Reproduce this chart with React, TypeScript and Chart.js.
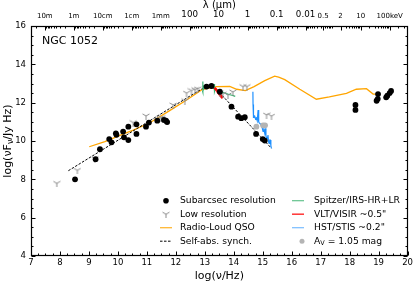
import { useEffect, useRef } from 'react';
import { Chart, registerables } from 'chart.js';

Chart.register(...registerables);

const FONT = "'DejaVu Sans', sans-serif";

// Subarcsec resolution photometry (log nu, log nuFnu)
const subarcNu = [8.52, 9.23, 9.38, 9.70, 9.78, 9.93, 9.95, 10.18, 10.21, 10.36, 10.36, 10.64, 10.64, 10.97, 11.07, 11.36, 11.59, 11.66, 11.70, 13.06, 13.23, 13.52, 13.92, 14.15, 14.26, 14.38, 14.77, 15.00, 15.07, 18.20, 18.20, 18.93, 18.97, 18.98, 19.26, 19.30, 19.38, 19.43];
const subarcFlux = [8.00, 9.05, 9.57, 10.10, 9.93, 10.40, 10.32, 10.49, 10.19, 10.05, 10.75, 10.87, 10.37, 10.75, 10.96, 11.06, 11.10, 11.06, 10.99, 12.84, 12.87, 12.57, 11.79, 11.27, 11.19, 11.24, 10.37, 10.10, 10.02, 11.88, 11.62, 12.10, 12.20, 12.45, 12.28, 12.36, 12.50, 12.61];

// Low resolution photometry
const lowresNu = [7.89, 8.60, 9.21, 10.53, 10.97, 11.45, 11.52, 11.91, 12.31, 12.37, 12.54, 12.66, 12.75, 13.52, 13.62, 13.80, 13.97, 14.32, 14.45, 15.13, 15.30];
const lowresFlux = [7.79, 8.47, 9.08, 10.96, 11.31, 11.19, 11.22, 11.88, 12.10, 12.50, 12.63, 12.68, 12.72, 12.50, 12.45, 12.40, 12.56, 12.84, 12.84, 11.36, 11.30];

// Extinction corrected (A_V = 1.05 mag)
const avNu = [14.78, 15.01, 15.08];
const avFlux = [10.75, 10.82, 10.82];

// Radio-loud QSO template
const qsoNu = [9.01, 9.55, 10.24, 10.53, 11.10, 11.80, 12.37, 12.90, 13.10, 13.40, 13.86, 14.10, 14.40, 14.70, 15.07, 15.41, 15.55, 15.76, 16.28, 16.85, 17.30, 17.89, 18.23, 18.58, 18.81, 18.95];
const qsoFlux = [9.70, 9.97, 10.40, 10.57, 10.95, 11.60, 12.14, 12.68, 12.75, 12.84, 12.85, 12.70, 12.63, 12.84, 13.15, 13.38, 13.33, 13.20, 12.70, 12.18, 12.30, 12.49, 12.70, 12.73, 12.45, 12.45];

// Self-absorbed synchrotron model
const synchNu = [8.29, 12.60, 12.90, 13.15, 13.40, 15.30];
const synchFlux = [8.45, 12.45, 12.72, 12.80, 12.70, 9.62];

// Spitzer/IRS spectrum
const spitzerNu = [12.92, 12.93, 12.935, 12.94, 12.96, 12.99, 13.03, 13.08, 13.14, 13.20, 13.26, 13.32, 13.33, 13.34, 13.36, 13.42, 13.50, 13.58, 13.66, 13.74, 13.82, 13.90, 13.98, 14.05];
const spitzerFlux = [12.62, 13.10, 12.55, 12.90, 12.70, 12.80, 12.76, 12.80, 12.78, 12.80, 12.77, 12.76, 12.98, 12.60, 12.74, 12.66, 12.60, 12.55, 12.52, 12.47, 12.43, 12.40, 12.37, 12.33];

// VLT/VISIR spectrum
const vltNu = [13.34, 13.38, 13.42, 13.46, 13.50, 13.54, 13.58, 13.62];
const vltFlux = [12.78, 12.70, 12.62, 12.53, 12.45, 12.38, 12.30, 12.24];

// HST/STIS spectrum
const hstNu = [14.66, 14.665, 14.67, 14.69, 14.72, 14.75, 14.78, 14.81, 14.84, 14.86, 14.88, 14.91, 14.95, 14.98, 15.01, 15.04, 15.07, 15.09, 15.11, 15.13, 15.16, 15.18, 15.20, 15.22, 15.24, 15.26, 15.28, 15.30];
const hstFlux = [12.57, 11.90, 11.40, 11.25, 11.30, 11.15, 11.20, 11.05, 11.62, 11.00, 10.95, 10.90, 10.85, 10.70, 10.50, 10.60, 10.40, 10.66, 10.30, 10.05, 10.20, 10.31, 9.95, 9.88, 10.05, 10.05, 9.75, 9.62];

// Top axis: wavelength (micron) and X-ray energy (keV)
const lambdaLabels = ['10m', '1m', '10cm', '1cm', '1mm', '100', '10', '1', '0.1', '0.01'];
const lambdaMicron = [1e7, 1e6, 1e5, 1e4, 1e3, 100, 10, 1, 0.1, 0.01];
const keVLabels = ['0.5', '2', '10', '100keV'];
const keVValues = [0.5, 2, 10, 100];

const LOG_C_MICRON = Math.log10(2.99792458e14);
const LOG_KEV_HZ = Math.log10(2.417989e17);

const topTickPos = [
  ...lambdaMicron.map((l) => LOG_C_MICRON - Math.log10(l)),
  ...keVValues.map((e) => LOG_KEV_HZ + Math.log10(e)),
];
const topTickLabels = [...lambdaLabels, ...keVLabels];

const pts = (xs: number[], ys: number[]) => xs.map((x, i) => ({ x, y: ys[i] }));

function makeTri(color: string, size: number) {
  const c = document.createElement('canvas');
  c.width = size;
  c.height = size;
  const g = c.getContext('2d')!;
  const r = size / 2;
  g.strokeStyle = color;
  g.lineWidth = 1;
  g.beginPath();
  g.moveTo(r, r);
  g.lineTo(r, size);
  g.moveTo(r, r);
  g.lineTo(r - r * 0.87, r - r * 0.5);
  g.moveTo(r, r);
  g.lineTo(r + r * 0.87, r - r * 0.5);
  g.stroke();
  return c;
}

const decor = {
  id: 'decor',
  afterDraw(chart: any) {
    const { ctx, chartArea: a } = chart;
    const xs = chart.scales.x;
    const ys = chart.scales.y;
    const L = Math.round(a.left) + 0.5;
    const R = Math.round(a.right) - 0.5;
    const T = Math.round(a.top) + 0.5;
    const B = Math.round(a.bottom) - 0.5;
    ctx.save();
    ctx.strokeStyle = '#000';
    ctx.lineWidth = 1;
    ctx.beginPath();
    // bottom ticks
    for (let v = 7; v <= 20.001; v += 0.25) {
      const px = Math.round(xs.getPixelForValue(v)) + 0.5;
      const len = Math.abs(v - Math.round(v)) < 1e-6 ? 4 : 2;
      ctx.moveTo(px, B);
      ctx.lineTo(px, B - len);
    }
    // left / right ticks
    for (let v = 4; v <= 16.001; v += 0.5) {
      const py = Math.round(ys.getPixelForValue(v)) + 0.5;
      const len = Math.abs(v / 2 - Math.round(v / 2)) < 1e-6 ? 4 : 2;
      ctx.moveTo(L, py);
      ctx.lineTo(L + len, py);
      ctx.moveTo(R, py);
      ctx.lineTo(R - len, py);
    }
    // top major ticks
    topTickPos.forEach((v) => {
      const px = Math.round(xs.getPixelForValue(v)) + 0.5;
      ctx.moveTo(px, T);
      ctx.lineTo(px, T + 4);
    });
    // top minor ticks (wavelength)
    for (let n = -3; n <= 7; n++) {
      for (let k = 2; k <= 9; k++) {
        const v = LOG_C_MICRON - Math.log10(k) - n;
        if (v > 7 && v < 17.0) {
          const px = Math.round(xs.getPixelForValue(v)) + 0.5;
          ctx.moveTo(px, T);
          ctx.lineTo(px, T + 2);
        }
      }
    }
    // top minor ticks (energy)
    for (let n = -1; n <= 2; n++) {
      for (let k = 1; k <= 9; k++) {
        const e = k * Math.pow(10, n);
        if (keVValues.some((m) => Math.abs(m - e) < 1e-9)) continue;
        const v = LOG_KEV_HZ + Math.log10(e);
        if (v > 17.05 && v < 20) {
          const px = Math.round(xs.getPixelForValue(v)) + 0.5;
          ctx.moveTo(px, T);
          ctx.lineTo(px, T + 2);
        }
      }
    }
    ctx.stroke();
    // frame
    ctx.lineWidth = 1.2;
    ctx.strokeRect(L, T, R - L, B - T);

    // object name
    ctx.fillStyle = '#000';
    ctx.font = `11px ${FONT}`;
    ctx.textBaseline = 'middle';
    ctx.textAlign = 'left';
    ctx.fillText('NGC 1052', 42, 41);

    // y axis title with subscript
    ctx.save();
    ctx.translate(8, (a.top + a.bottom) / 2);
    ctx.rotate(-Math.PI / 2);
    const big = `11px ${FONT}`;
    const small = `8px ${FONT}`;
    const parts: [string, string, number][] = [
      ['log(\u03bdF', big, 0],
      ['\u03bd', small, 2.5],
      ['/Jy Hz)', big, 0],
    ];
    let w = 0;
    parts.forEach(([t, f]) => {
      ctx.font = f;
      w += ctx.measureText(t).width;
    });
    let x0 = -w / 2;
    ctx.textAlign = 'left';
    ctx.textBaseline = 'middle';
    parts.forEach(([t, f, dy]) => {
      ctx.font = f;
      ctx.fillText(t, x0, dy);
      x0 += ctx.measureText(t).width;
    });
    ctx.restore();

    // legend
    const rows = [200.7, 214.2, 227.7, 241.2];
    const ds = chart.data.datasets;
    const byLabel = (l: string) => ds.find((d: any) => d.label === l);
    ctx.font = `9.2px ${FONT}`;
    ctx.textBaseline = 'middle';
    ctx.fillStyle = '#000';
    const left = ['Subarcsec resolution', 'Low resolution', 'Radio-Loud QSO', 'Self-abs. synch.'];
    const right = ['Spitzer/IRS-HR+LR', 'VLT/VISIR ~0.5"', 'HST/STIS ~0.2"'];
    left.forEach((t, i) => ctx.fillText(t, 180, rows[i]));
    right.forEach((t, i) => ctx.fillText(t, 314, rows[i]));
    // A_V text
    ctx.fillText('A', 314, rows[3]);
    let ax = 314 + ctx.measureText('A').width;
    ctx.font = `6.5px ${FONT}`;
    ctx.fillText('V', ax, rows[3] + 2);
    ax += ctx.measureText('V').width;
    ctx.font = `9.2px ${FONT}`;
    ctx.fillText(' = 1.05 mag', ax, rows[3]);

    // legend handles
    const sub = byLabel('Subarcsec resolution');
    ctx.fillStyle = sub.backgroundColor;
    ctx.beginPath();
    ctx.arc(166, rows[0], 2.8, 0, Math.PI * 2);
    ctx.fill();
    const low = byLabel('Low resolution');
    ctx.drawImage(low.pointStyle, 166 - 4, rows[1] - 4);
    const line = (d: any, x0: number, x1: number, y: number, alpha: number) => {
      ctx.save();
      ctx.globalAlpha = alpha;
      ctx.strokeStyle = d.borderColor;
      ctx.lineWidth = Math.min(d.borderWidth, 1.5);
      ctx.setLineDash(d.borderDash || []);
      ctx.beginPath();
      ctx.moveTo(x0, y);
      ctx.lineTo(x1, y);
      ctx.stroke();
      ctx.restore();
    };
    line(byLabel('Radio-Loud QSO'), 160, 172, rows[2], 0.8);
    line(byLabel('Self-abs. synch.'), 160, 172, rows[3], 1);
    line(byLabel('Spitzer/IRS-HR+LR'), 292, 304, rows[0], 0.8);
    line(byLabel('VLT/VISIR'), 292, 304, rows[1], 0.8);
    line(byLabel('HST/STIS'), 292, 304, rows[2], 0.6);
    const av = byLabel('Av corrected');
    ctx.fillStyle = av.backgroundColor;
    ctx.beginPath();
    ctx.arc(302, rows[3], 2.5, 0, Math.PI * 2);
    ctx.fill();
    ctx.restore();
  },
};

export default function App() {
  const ref = useRef<HTMLCanvasElement>(null);
  useEffect(() => {
    const canvas = ref.current!;
    const tri = makeTri('#8c8c8c', 8);
    const lineDs = (label: string, xs: number[], ys: number[], color: string, width: number, dash?: number[]) => ({
      label,
      data: pts(xs, ys),
      showLine: true,
      borderColor: color,
      borderWidth: width,
      borderDash: dash,
      pointRadius: 0,
      fill: false,
      tension: 0,
    });
    const chart = new Chart(canvas, {
      type: 'scatter',
      data: {
        datasets: [
          {
            label: 'Subarcsec resolution',
            data: pts(subarcNu, subarcFlux),
            backgroundColor: '#000',
            borderWidth: 0,
            pointRadius: 2.9,
          } as any,
          {
            label: 'Av corrected',
            data: pts(avNu, avFlux),
            backgroundColor: '#b4b4b4',
            borderWidth: 0,
            pointRadius: 2.9,
          },
          {
            label: 'Low resolution',
            data: pts(lowresNu, lowresFlux),
            pointStyle: tri as any,
            pointRadius: 4,
          },
          lineDs('VLT/VISIR', vltNu, vltFlux, '#ff0000', 2.6),
          lineDs('Spitzer/IRS-HR+LR', spitzerNu, spitzerFlux, '#3cb371', 1.2),
          lineDs('HST/STIS', hstNu, hstFlux, '#1e90ff', 1.2),
          lineDs('Self-abs. synch.', synchNu, synchFlux, '#000', 1, [2.5, 1.5]),
          lineDs('Radio-Loud QSO', qsoNu, qsoFlux, '#ffa500', 1.3),
        ],
      },
      options: {
        responsive: false,
        animation: false,
        devicePixelRatio: 1,
        layout: { padding: { left: 0, right: 7, top: 0, bottom: 0 }, autoPadding: false },
        plugins: { legend: { display: false }, tooltip: { enabled: false } },
        scales: {
          x: {
            type: 'linear',
            position: 'bottom',
            min: 7,
            max: 20,
            grid: { display: false, drawTicks: false },
            border: { display: false },
            ticks: {
              stepSize: 1,
              autoSkip: false,
              maxRotation: 0,
              padding: 2,
              color: '#000',
              font: { family: FONT, size: 8.5 },
            },
            title: {
              display: true,
              text: 'log(\u03bd/Hz)',
              color: '#000',
              font: { family: FONT, size: 11 },
              padding: { top: 0, bottom: 0 },
            },
            afterFit: (s: any) => {
              s.height = 27;
            },
          },
          x2: {
            type: 'linear',
            axis: 'x',
            position: 'top',
            min: 7,
            max: 20,
            bounds: 'data',
            grid: { display: false, drawTicks: false },
            border: { display: false },
            afterBuildTicks: (s: any) => {
              s.ticks = topTickPos.map((v) => ({ value: v }));
            },
            ticks: {
              autoSkip: false,
              maxRotation: 0,
              padding: 6,
              color: '#000',
              callback: (_v: any, i: number) => topTickLabels[i],
              font: (c: any) => ({ family: FONT, size: c.index >= 5 && c.index <= 9 ? 8.7 : 7 }),
            },
            title: {
              display: true,
              text: '\u03bb (\u03bcm)',
              color: '#000',
              font: { family: FONT, size: 10, lineHeight: 1 },
              padding: { top: 0, bottom: 0 },
            },
            afterFit: (s: any) => {
              s.height = 26;
            },
          } as any,
          y: {
            type: 'linear',
            position: 'left',
            min: 4,
            max: 16,
            grid: { display: false, drawTicks: false },
            border: { display: false },
            ticks: {
              stepSize: 2,
              autoSkip: false,
              padding: 5,
              color: '#000',
              font: { family: FONT, size: 8.5 },
            },
            afterFit: (s: any) => {
              s.width = 31;
            },
          },
        },
      },
      plugins: [decor],
    });
    return () => chart.destroy();
  }, []);
  return (
    <div style={{ position: 'absolute', left: 0, top: 0, width: 415, height: 283 }}>
      <canvas ref={ref} width={415} height={283} style={{ display: 'block', width: 415, height: 283 }} />
    </div>
  );
}
